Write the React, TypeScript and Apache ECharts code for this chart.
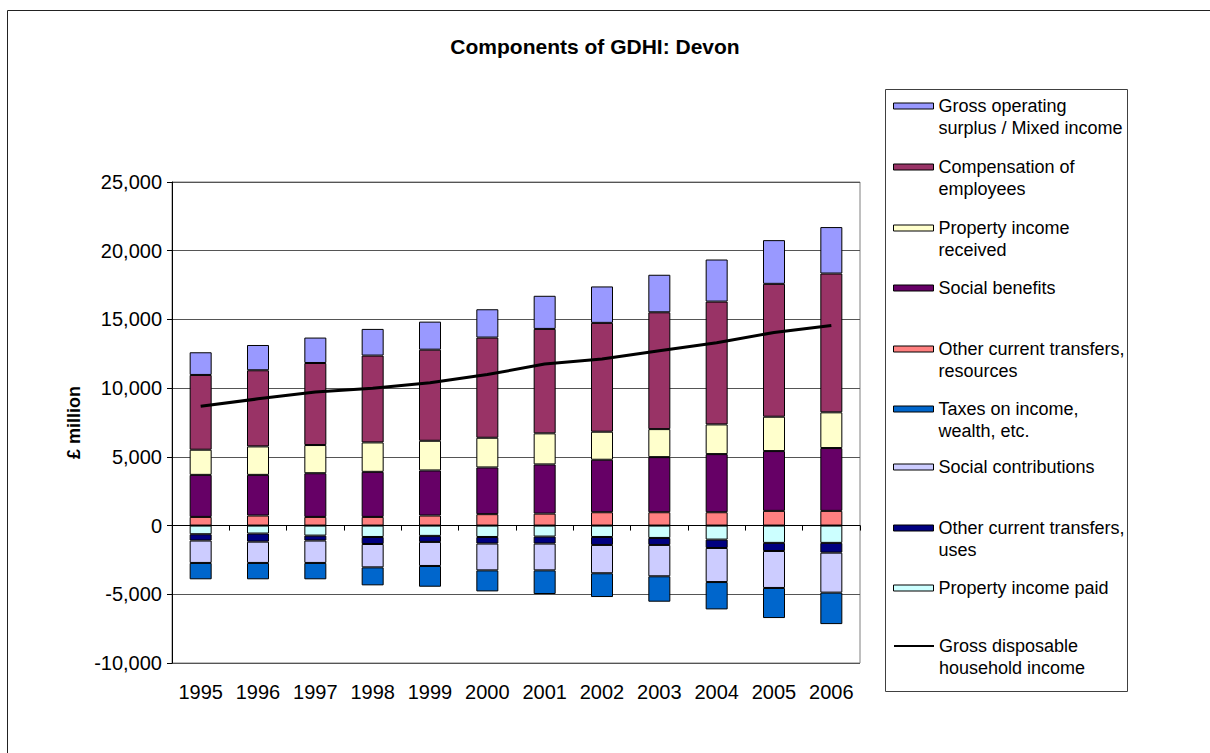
import React, { useEffect, useRef } from "react";
import * as echarts from "echarts";

const years = ["1995", "1996", "1997", "1998", "1999", "2000", "2001", "2002", "2003", "2004", "2005", "2006"];

// positive components (stacked upward from zero, in this order)
const otherTransfersResources = [630, 730, 630, 630, 730, 830, 870, 970, 970, 970, 1070, 1070];
const socialBenefits = [3060, 2960, 3180, 3280, 3280, 3400, 3580, 3820, 4010, 4230, 4350, 4570];
const propertyIncomeReceived = [1830, 2070, 2050, 2140, 2160, 2160, 2260, 2040, 2040, 2160, 2500, 2600];
const compensationOfEmployees = [5440, 5540, 5970, 6320, 6630, 7290, 7600, 7920, 8500, 8940, 9670, 10100];
const grossOperatingSurplus = [1650, 1840, 1850, 1940, 2040, 2060, 2410, 2650, 2730, 3060, 3180, 3380];

// negative components (stacked downward from zero, in this order)
const propertyIncomePaid = [-630, -580, -730, -830, -750, -830, -800, -830, -900, -1020, -1260, -1260];
const otherTransfersUses = [-460, -590, -360, -510, -440, -480, -510, -580, -510, -610, -590, -710];
const socialContributions = [-1630, -1550, -1630, -1700, -1750, -1950, -1950, -2060, -2280, -2480, -2690, -2910];
const taxesOnIncome = [-1190, -1190, -1190, -1310, -1510, -1530, -1720, -1730, -1850, -1990, -2190, -2290];

const gdhi = [8680, 9220, 9720, 10000, 10400, 10990, 11750, 12120, 12720, 13300, 14050, 14560];

const yTicks = { min: -10000, max: 25000, interval: 5000 };

const FONT = '"Liberation Sans", Arial, sans-serif';

type BarDef = { name: string; label: string; data: number[]; color: string };

const barDefs: BarDef[] = [
  { name: "Other current transfers, resources", label: "Other current transfers,\nresources", data: otherTransfersResources, color: "#FF8080" },
  { name: "Social benefits", label: "Social benefits", data: socialBenefits, color: "#660066" },
  { name: "Property income received", label: "Property income\nreceived", data: propertyIncomeReceived, color: "#FFFFCC" },
  { name: "Compensation of employees", label: "Compensation of\nemployees", data: compensationOfEmployees, color: "#993366" },
  { name: "Gross operating surplus / Mixed income", label: "Gross operating\nsurplus / Mixed income", data: grossOperatingSurplus, color: "#9999FF" },
  { name: "Property income paid", label: "Property income paid", data: propertyIncomePaid, color: "#CCFFFF" },
  { name: "Other current transfers, uses", label: "Other current transfers,\nuses", data: otherTransfersUses, color: "#000080" },
  { name: "Social contributions", label: "Social contributions", data: socialContributions, color: "#CCCCFF" },
  { name: "Taxes on income, wealth, etc.", label: "Taxes on income,\nwealth, etc.", data: taxesOnIncome, color: "#0066CC" },
];

const lineName = "Gross disposable household income";
const lineLabel = "Gross disposable\nhousehold income";

// legend order and icon centre y
const legendOrder: { name: string; y: number }[] = [
  { name: "Gross operating surplus / Mixed income", y: 106 },
  { name: "Compensation of employees", y: 167 },
  { name: "Property income received", y: 228 },
  { name: "Social benefits", y: 288 },
  { name: "Other current transfers, resources", y: 349 },
  { name: "Taxes on income, wealth, etc.", y: 409 },
  { name: "Social contributions", y: 467 },
  { name: "Other current transfers, uses", y: 528 },
  { name: "Property income paid", y: 588 },
  { name: lineName, y: 646 },
];

const LH = 22;

export default function App() {
  const ref = useRef<HTMLDivElement>(null);
  useEffect(() => {
    if (!ref.current) return;
    const chart = echarts.init(ref.current, undefined, { renderer: "svg" });

    const labelOf = (n: string) => {
      if (n === lineName) return lineLabel;
      const d = barDefs.find((b) => b.name === n);
      return d ? d.label : n;
    };

    const legends = legendOrder.map((item) => {
      const lbl = labelOf(item.name);
      const twoLine = lbl.indexOf("\n") >= 0;
      const isLine = item.name === lineName;
      // for two-line labels, a blank line on top keeps the first line level with the icon
      const shown = twoLine ? "\u00a0\n" + lbl : lbl;
      const top = twoLine ? item.y - 3 - 30 : item.y - 3 - 8;
      const l: any = {
        data: [item.name],
        left: 893,
        top,
        padding: 0,
        itemWidth: 40,
        itemHeight: 6,
        selectedMode: false,
        formatter: () => shown,
        textStyle: {
          fontFamily: FONT,
          fontSize: 18,
          color: "#000",
          lineHeight: LH,
        },
      };
      if (!isLine) {
        l.icon = "rect";
        l.itemStyle = { borderColor: "#000", borderWidth: 1 };
      } else {
        l.lineStyle = { width: 2, color: "#000" };
        l.itemStyle = { color: "rgba(0,0,0,0)", borderWidth: 0, opacity: 0 };
      }
      return l;
    });

    const series: any[] = barDefs.map((b) => ({
      name: b.name,
      type: "bar",
      stack: "gdhi",
      xAxisIndex: 0,
      yAxisIndex: 0,
      barWidth: 22,
      data: b.data,
      itemStyle: { color: b.color, borderColor: "#000", borderWidth: 1 },
      emphasis: { disabled: true },
    }));
    series.push({
      name: lineName,
      type: "line",
      xAxisIndex: 0,
      yAxisIndex: 0,
      data: gdhi,
      symbol: "none",
      showSymbol: false,
      lineStyle: { color: "#000", width: 3 },
      itemStyle: { color: "#000" },
      z: 10,
      emphasis: { disabled: true },
    });

    chart.setOption({
      animation: false,
      backgroundColor: "#fff",
      textStyle: { fontFamily: FONT },
      title: {
        text: "Components of GDHI: Devon",
        left: 595,
        top: 36,
        textAlign: "center",
        padding: 0,
        textStyle: { fontFamily: FONT, fontSize: 21, fontWeight: "bold", color: "#000" },
      },
      grid: {
        left: 172,
        top: 182,
        right: 350,
        bottom: 90,
        show: true,
        borderColor: "#808080",
        borderWidth: 1,
        backgroundColor: "transparent",
      },
      legend: legends,
      xAxis: [
        {
          type: "category",
          data: years,
          position: "bottom",
          axisLine: { show: false, onZero: false },
          axisTick: { show: false },
          axisLabel: { color: "#000", fontSize: 20, fontFamily: FONT, margin: 19, interval: 0, hideOverlap: false },
          splitLine: { show: false },
        },
        {
          type: "category",
          data: years,
          position: "bottom",
          axisLine: { show: true, onZero: true, lineStyle: { color: "#000", width: 1 } },
          axisTick: { show: true, length: 5, interval: 0, lineStyle: { color: "#000" } },
          axisLabel: { show: false },
          splitLine: { show: false },
        },
      ],
      yAxis: {
        type: "value",
        min: yTicks.min,
        max: yTicks.max,
        interval: yTicks.interval,
        name: "£ million",
        nameLocation: "middle",
        nameGap: 89,
        nameTextStyle: { fontFamily: FONT, fontSize: 18, fontWeight: "bold", color: "#000" },
        axisLine: { show: true, lineStyle: { color: "#000", width: 1 } },
        axisTick: { show: true, length: 5, lineStyle: { color: "#000" } },
        axisLabel: {
          color: "#000",
          fontSize: 20,
          fontFamily: FONT,
          margin: 10,
          formatter: (v: number) => v.toLocaleString("en-US"),
        },
        splitLine: { show: true, lineStyle: { color: "#555", width: 1 } },
      },
      graphic: [
        {
          type: "rect",
          shape: { x: 7.5, y: 10.5, width: 1400, height: 900 },
          style: { fill: "none", stroke: "#222", lineWidth: 1 },
          silent: true,
          z: -10,
        },
        {
          type: "rect",
          shape: { x: 885.5, y: 89.5, width: 242, height: 602 },
          style: { fill: "none", stroke: "#404040", lineWidth: 1 },
          silent: true,
        },
      ],
      series,
    });

    return () => chart.dispose();
  }, []);

  return (
    <div
      ref={ref}
      style={{ position: "absolute", left: 0, top: 0, width: 1210, height: 753 }}
    />
  );
}
